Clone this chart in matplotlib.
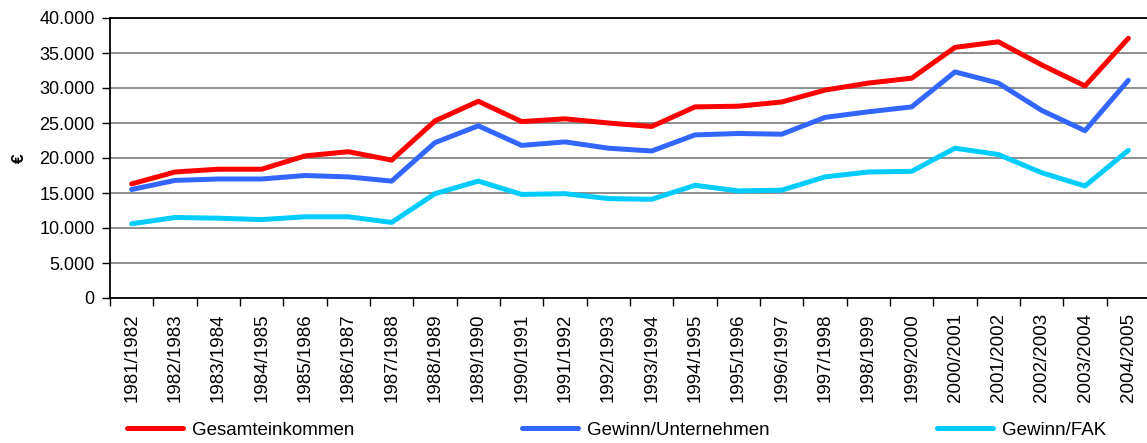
import matplotlib
matplotlib.use("Agg")
import matplotlib.pyplot as plt
from matplotlib.ticker import FuncFormatter, MultipleLocator, FixedLocator

plt.rcParams['font.family'] = ['Liberation Sans', 'DejaVu Sans']

years = ["1981/1982", "1982/1983", "1983/1984", "1984/1985", "1985/1986", "1986/1987",
         "1987/1988", "1988/1989", "1989/1990", "1990/1991", "1991/1992", "1992/1993",
         "1993/1994", "1994/1995", "1995/1996", "1996/1997", "1997/1998", "1998/1999",
         "1999/2000", "2000/2001", "2001/2002", "2002/2003", "2003/2004", "2004/2005"]

gesamteinkommen = [16300, 18000, 18400, 18400, 20300, 20900, 19700, 25300, 28100, 25200,
                   25600, 25000, 24500, 27300, 27400, 28000, 29700, 30700, 31400, 35800,
                   36600, 33300, 30300, 37100]
gewinn_unternehmen = [15500, 16800, 17000, 17000, 17500, 17300, 16700, 22200, 24600, 21800,
                      22300, 21400, 21000, 23300, 23500, 23400, 25800, 26600, 27300, 32300,
                      30700, 26800, 23900, 31100]
gewinn_fak = [10600, 11500, 11400, 11200, 11600, 11600, 10800, 14900, 16700, 14800,
              14900, 14200, 14100, 16100, 15300, 15400, 17300, 18000, 18100, 21400,
              20500, 17900, 16000, 21100]

series_names = ["Gesamteinkommen", "Gewinn/Unternehmen", "Gewinn/FAK"]
colors = ["#FF0000", "#3366FF", "#00CCFF"]

W, H = 1147, 443
fig = plt.figure(figsize=(W / 100, H / 100), dpi=100)
left, right, top, bottom = 110, 1150, 18, 298
ax = fig.add_axes([left / W, 1 - bottom / H, (right - left) / W, (bottom - top) / H])

x = list(range(len(years)))
lines = []
for vals, c, name in zip([gesamteinkommen, gewinn_unternehmen, gewinn_fak], colors, series_names):
    ln, = ax.plot(x, vals, color=c, lw=3.6, label=name, solid_capstyle='round',
                  solid_joinstyle='round', zorder=3)
    lines.append(ln)

ax.set_xlim(-0.5, len(years) - 0.5)
ax.set_ylim(0, 40000)
ax.yaxis.set_major_locator(MultipleLocator(5000))
ax.yaxis.set_major_formatter(FuncFormatter(lambda v, p: f"{int(v):,}".replace(",", ".")))
ax.grid(axis='y', color='#7a7a7a', lw=1.2, zorder=1)
ax.set_axisbelow(True)

ax.set_xticks(x)
ax.set_xticklabels(years, rotation=90, fontsize=13.5)
ax.tick_params(axis='x', which='major', length=0, pad=11)
ax.xaxis.set_minor_locator(FixedLocator([i - 0.5 for i in range(len(years) + 1)]))
ax.tick_params(axis='x', which='minor', length=6, width=1, color='black')
ax.tick_params(axis='y', length=6, width=1, labelsize=13, pad=5)

for s in ['left', 'bottom', 'top']:
    ax.spines[s].set_color('black')
    ax.spines[s].set_linewidth(1.3)
ax.spines['right'].set_visible(False)

fig.text(19 / W, 1 - 158 / H, "€", rotation=90, fontsize=12.5, fontweight='bold',
         ha='center', va='center')

leg_x = [127, 522, 937]
for ln, lx in zip(lines, leg_x):
    fig.legend(handles=[ln], loc='center left', bbox_to_anchor=(lx / W, 1 - 430 / H),
               frameon=False, fontsize=13.5, handlelength=3.0, handletextpad=0.45,
               borderpad=0, borderaxespad=0)

fig.savefig("out.png", dpi=100)
